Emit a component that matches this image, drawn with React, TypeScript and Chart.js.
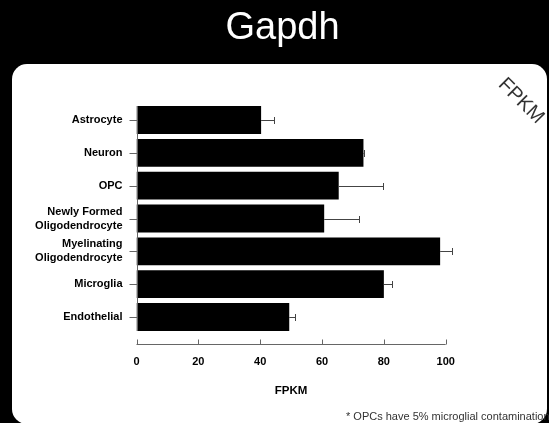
import React, { useEffect, useRef } from "react";
import { Chart, registerables } from "chart.js";

Chart.register(...registerables);

// Cell types (top to bottom) and their Gapdh expression
const cellTypes: (string | string[])[] = [
  "Astrocyte",
  "Neuron",
  "OPC",
  ["Newly Formed", "Oligodendrocyte"],
  ["Myelinating", "Oligodendrocyte"],
  "Microglia",
  "Endothelial",
];
const fpkmMean = [40.3, 73.4, 65.4, 60.7, 98.2, 80.0, 49.4];
const fpkmError = [4.2, 0.3, 14.4, 11.2, 3.7, 2.5, 1.7];
const xTicks = [0, 20, 40, 60, 80, 100];

const chartTitle = "Gapdh";
const cornerLabel = "FPKM";
const footnote = "* OPCs have 5% microglial contamination";

const FONT = "'Liberation Sans', Arial, Helvetica, sans-serif";

const decorations = {
  id: "decorations",
  beforeDraw(chart: any) {
    const { ctx, width, height } = chart;
    ctx.save();
    ctx.fillStyle = "#000";
    ctx.fillRect(0, 0, width, height);

    // slide title
    ctx.fillStyle = "#fff";
    ctx.font = `38px ${FONT}`;
    ctx.textAlign = "center";
    ctx.textBaseline = "alphabetic";
    ctx.fillText(chartTitle, 282.5, 39);

    // rounded white panel
    const x = 12, y = 64, w = 535, h = 360, r = 15;
    ctx.beginPath();
    ctx.moveTo(x + r, y);
    ctx.lineTo(x + w - r, y);
    ctx.arcTo(x + w, y, x + w, y + r, r);
    ctx.lineTo(x + w, y + h - r);
    ctx.arcTo(x + w, y + h, x + w - r, y + h, r);
    ctx.lineTo(x + r, y + h);
    ctx.arcTo(x, y + h, x, y + h - r, r);
    ctx.lineTo(x, y + r);
    ctx.arcTo(x, y, x + r, y, r);
    ctx.closePath();
    ctx.fillStyle = "#fff";
    ctx.fill();
    ctx.restore();
  },
  afterDatasetsDraw(chart: any) {
    const { ctx, scales, chartArea } = chart;
    const xs = scales.x;
    const ys = scales.y;
    ctx.save();

    // error bars
    ctx.strokeStyle = "#444";
    ctx.lineWidth = 1;
    fpkmMean.forEach((v, i) => {
      const py = Math.round(ys.getPixelForValue(i)) + 0.5;
      const x0 = xs.getPixelForValue(v);
      const x1 = Math.round(xs.getPixelForValue(v + fpkmError[i])) + 0.5;
      ctx.beginPath();
      ctx.moveTo(x0, py);
      ctx.lineTo(x1, py);
      ctx.moveTo(x1, py - 3.5);
      ctx.lineTo(x1, py + 3.5);
      ctx.stroke();
    });

    // category axis
    ctx.strokeStyle = "#666";
    const ax = Math.round(chartArea.left) + 0.5;
    const meta = chart.getDatasetMeta(0);
    const firstBar = meta.data[0];
    const lastBar = meta.data[meta.data.length - 1];
    const topY = firstBar.y - firstBar.height / 2;
    const botY = lastBar.y + lastBar.height / 2;
    ctx.beginPath();
    ctx.moveTo(ax, topY);
    ctx.lineTo(ax, botY);
    cellTypes.forEach((_, i) => {
      const py = Math.round(ys.getPixelForValue(i)) + 0.5;
      ctx.moveTo(ax - 8, py);
      ctx.lineTo(ax, py);
    });
    ctx.stroke();

    // value axis
    const ay = Math.round(chartArea.bottom + 11) + 0.5;
    ctx.beginPath();
    ctx.moveTo(xs.getPixelForValue(xTicks[0]), ay);
    ctx.lineTo(xs.getPixelForValue(xTicks[xTicks.length - 1]), ay);
    xTicks.forEach((t) => {
      const px = Math.round(xs.getPixelForValue(t)) + 0.5;
      ctx.moveTo(px, ay);
      ctx.lineTo(px, ay - 5);
    });
    ctx.stroke();

    // rotated corner label
    ctx.save();
    ctx.translate(521, 101);
    ctx.rotate(Math.PI / 4);
    ctx.fillStyle = "#333";
    ctx.font = `20px ${FONT}`;
    ctx.textAlign = "center";
    ctx.textBaseline = "middle";
    ctx.fillText(cornerLabel, 0, 0);
    ctx.restore();

    // footnote
    ctx.fillStyle = "#333";
    ctx.font = `11px ${FONT}`;
    ctx.textAlign = "left";
    ctx.textBaseline = "middle";
    ctx.fillText(footnote, 346, 417);

    ctx.restore();
  },
};

export default function App() {
  const canvasRef = useRef<HTMLCanvasElement | null>(null);

  useEffect(() => {
    document.body.style.margin = "0";
    document.body.style.background = "#000";
    const canvas = canvasRef.current;
    if (!canvas) return;
    const chart = new Chart(canvas, {
      type: "bar",
      data: {
        labels: cellTypes as any,
        datasets: [
          {
            data: fpkmMean,
            backgroundColor: "#000",
            borderWidth: 0,
            barPercentage: 0.85,
            categoryPercentage: 1,
          },
        ],
      },
      plugins: [decorations],
      options: {
        indexAxis: "y",
        responsive: false,
        animation: false,
        devicePixelRatio: 1,
        layout: { padding: { left: 0, right: 103.3, top: 103.6, bottom: 19.6 } },
        plugins: {
          legend: { display: false },
          tooltip: { enabled: false },
          title: { display: false },
        },
        scales: {
          x: {
            min: 0,
            max: 100,
            afterBuildTicks: (scale: any) => {
              scale.ticks = xTicks.map((v) => ({ value: v }));
            },
            afterFit: (scale: any) => {
              scale.height = 70;
            },
            grid: { display: false, drawTicks: false },
            border: { display: false },
            ticks: {
              color: "#000",
              padding: 22,
              font: { family: FONT, size: 11, weight: "bold" },
            },
            title: {
              display: true,
              text: "FPKM",
              color: "#000",
              font: { family: FONT, size: 11.5, weight: "bold" },
              padding: { top: 4, bottom: 6 },
            },
          },
          y: {
            afterFit: (scale: any) => {
              scale.width = 136.5;
            },
            grid: { display: false, drawTicks: false },
            border: { display: false },
            ticks: {
              color: "#000",
              padding: 14,
              font: { family: FONT, size: 11, weight: "bold", lineHeight: 1.27 },
            },
          },
        },
      },
    });
    return () => chart.destroy();
  }, []);

  return (
    <div style={{ position: "fixed", left: 0, top: 0, width: 549, height: 423, background: "#000" }}>
      <canvas ref={canvasRef} width={549} height={423} style={{ display: "block" }} />
    </div>
  );
}
